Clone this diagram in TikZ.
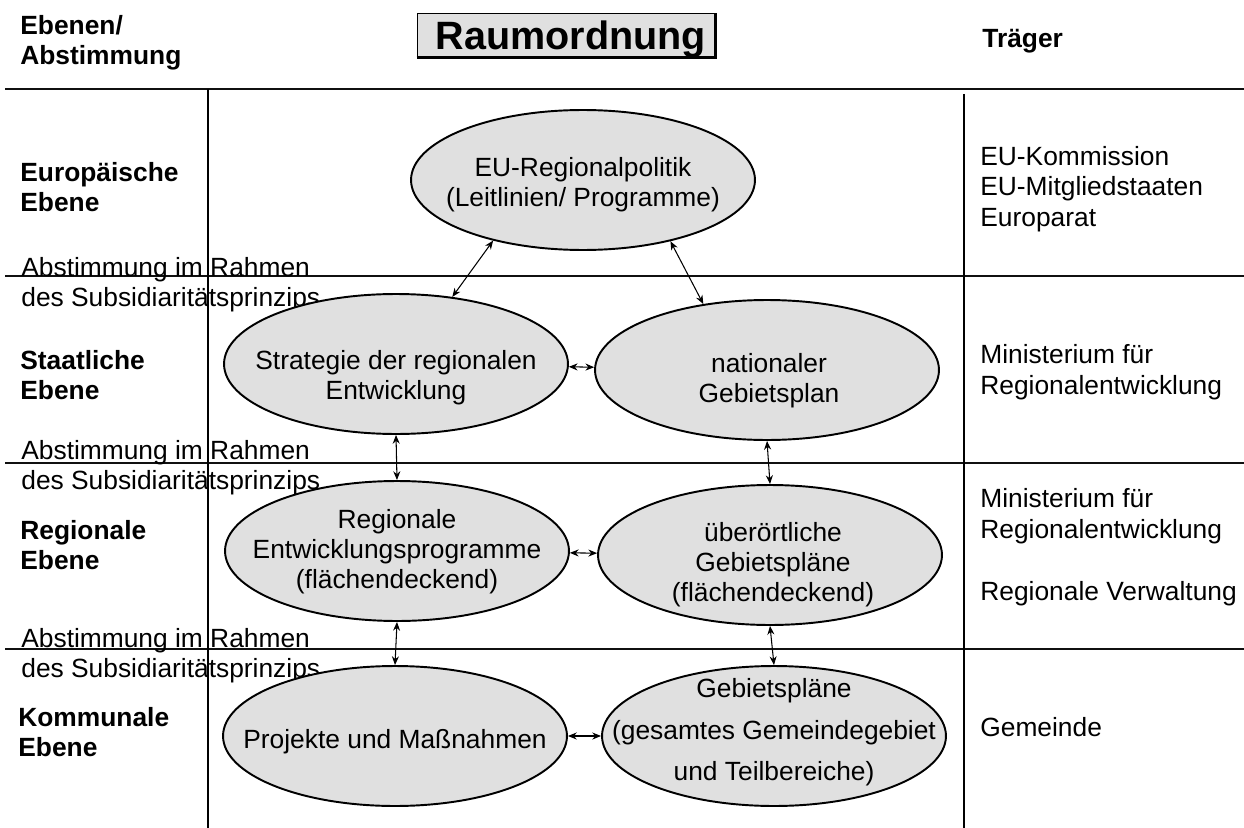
\documentclass[tikz,border=0pt]{standalone}
\usepackage{fontspec}
\setmainfont{Liberation Sans}
\usepackage{xcolor}
\usepackage{tikz}
\usetikzlibrary{shapes.geometric, arrows.meta, positioning}
\definecolor{ovalgray}{HTML}{E0E0E0}
\definecolor{rulegray}{HTML}{101010}
\tikzset{
  % Plan ovals
  plan/.style={
    ellipse, draw=black, line width=1.1pt, fill=ovalgray, inner sep=0pt,
    minimum width=6.88cm, minimum height=2.8cm
  },
  plantext/.style={align=center, inner sep=0pt, font=\fontsize{15}{17}\selectfont},
  % Level labels
  levellabel/.style={anchor=west, align=left, font=\fontsize{15}{17}\selectfont\bfseries, inner sep=0pt},
  agentlabel/.style={anchor=west, align=left, font=\fontsize{15}{17.5}\selectfont, inner sep=0pt},
  agreelabel/.style={anchor=west, align=left, font=\fontsize{15}{17}\selectfont, inner sep=0pt},
  % Rules and arrows
  rowline/.style={draw=rulegray, line width=1.1pt},
  colline/.style={draw=black, line width=0.85pt},
  link/.style={{Stealth[length=5pt,width=4pt]}-{Stealth[length=5pt,width=4pt]}, line width=0.6pt},
}
\begin{document}
\begin{tikzpicture}[x=0.02cm, y=-0.02cm]
  \useasboundingbox (0,0) rectangle (1244,828);

  % header
  \node[draw=black, line width=0.9pt, fill=ovalgray, minimum width=5.94cm, minimum height=0.86cm,
        inner sep=0pt] (titlebox) at (566,35) {};
  \draw[line width=1.4pt] (titlebox.south west) -- (titlebox.south east) -- (titlebox.north east);
  \node[anchor=base, inner sep=0pt, font=\fontsize{22.5}{25}\selectfont\bfseries] (title) at (571,50) {Raumordnung};
  \node[levellabel] (hdlevel) at (20,43) {Ebenen/\\Abstimmung};
  \node[levellabel] (hdagent) at (982,41) {Träger};

  % table rules
  \draw[rowline, line width=1.7pt] (5,89) -- (1244,89);
  \foreach \ry in {276,463,649}
    \draw[rowline] (5,\ry) -- (1244,\ry);
  \draw[colline] (208,89) -- (208,828);
  \draw[colline] (964,94) -- (964,828);

  % levels
  \node[levellabel] (lveu)   at (20,187) {Europäische\\Ebene};
  \node[levellabel] (lvstat) at (20,375) {Staatliche\\Ebene};
  \node[levellabel] (lvreg)  at (20,545) {Regionale\\Ebene};
  \node[levellabel] (lvkom)  at (18,732) {Kommunale\\Ebene};

  % coordination notes
  \foreach \ay/\an in {285/agreeA,468/agreeB,656/agreeC}
    \node[agreelabel] (\an) at (21,\ay) {Abstimmung im Rahmen\\des Subsidiaritätsprinzips};

  % bodies
  \node[agentlabel] (ageu)   at (980,189) {EU-Kommission\\EU-Mitgliedstaaten\\Europarat};
  \node[agentlabel] (agstat) at (980,372) {Ministerium für\\Regionalentwicklung};
  \node[agentlabel] (agreg)  at (980,547) {Ministerium für\\Regionalentwicklung\\[18pt]Regionale Verwaltung};
  \node[agentlabel] (agkom)  at (980,727) {Gemeinde};

  % plans
  \node[plan] (eu)      at (583,180) {};
  \node[plan] (strat)   at (396,364) {};
  \node[plan] (nat)     at (767,370) {};
  \node[plan] (regprog) at (397,551) {};
  \node[plan] (ueber)   at (770,555) {};
  \node[plan] (proj)    at (395,736) {};
  \node[plan] (gebiet)  at (774,736) {};
  \node[plantext] (eutxt)   at (583,185) {EU-Regionalpolitik\\(Leitlinien/ Programme)};
  \node[plantext] (strattxt) at (396,378) {Strategie der regionalen\\Entwicklung};
  \node[plantext] (nattxt)   at (769,381) {nationaler\\Gebietsplan};
  \node[plantext] (regtxt)   at (397,552) {Regionale\\Entwicklungsprogramme\\(flächendeckend)};
  \node[plantext] (uebtxt)   at (773,565) {überörtliche\\Gebietspläne\\(flächendeckend)};
  \node[plantext] (projtxt)  at (395,742) {Projekte und Maßnahmen};
  \node[plantext] (gebtxt)   at (774,732) {Gebietspläne\\[7pt](gesamtes Gemeindegebiet\\[6pt]und Teilbereiche)};

  % links
  \draw[link] (eu.214) -- (strat.50);
  \draw[link] (eu.325) -- (nat.134);
  \draw[link] (strat) -- (nat);
  \draw[link] (strat.south) -- (regprog.north);
  \draw[link] (nat.south) -- (ueber.north);
  \draw[link] (regprog) -- (ueber);
  \draw[link] (regprog.south) -- (proj.north);
  \draw[link] (ueber.south) -- (gebiet.north);
  \draw[link] (proj) -- (gebiet);
\end{tikzpicture}
\end{document}
